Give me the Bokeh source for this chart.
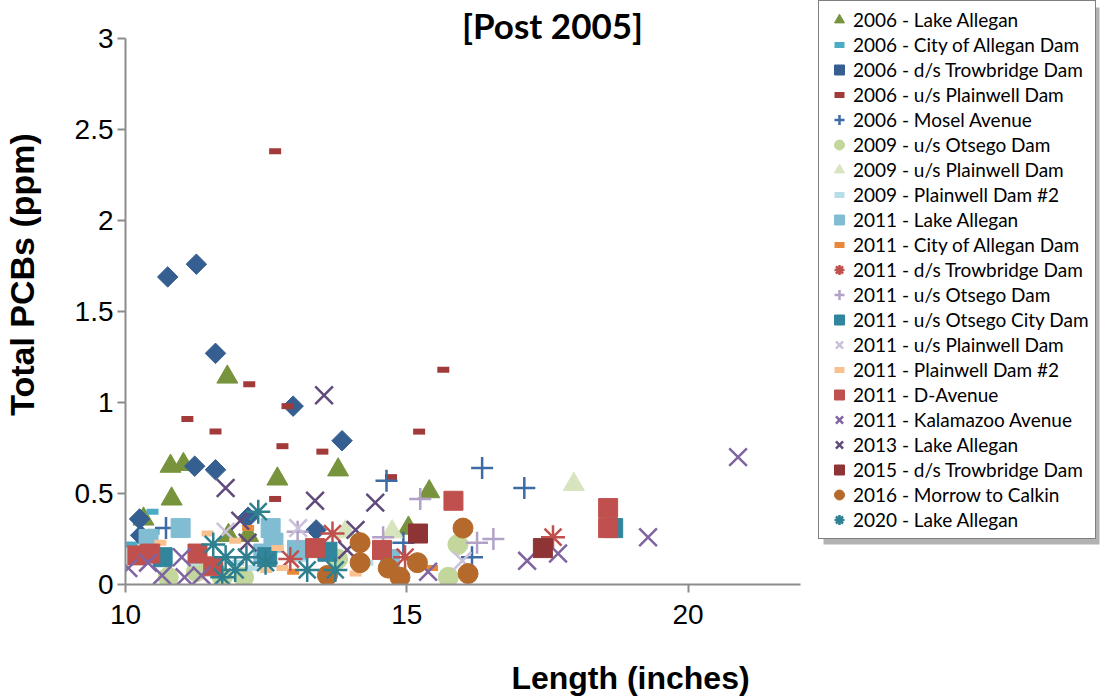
import math
from bokeh.plotting import figure
from bokeh.models import (Label, FixedTicker, NumeralTickFormatter, Range1d, Legend,
                          LegendItem, BoxAnnotation)
from bokeh.embed import file_html
from bokeh.resources import INLINE

# ---------------- data (Length in inches, Total PCBs in ppm) ----------------
s06_lake_x = [10.32, 10.80, 10.82, 11.03, 11.81, 11.83, 12.18, 12.70, 13.78, 15.03, 15.40]
s06_lake_y = [0.36, 0.65, 0.47, 0.66, 1.14, 0.27, 0.27, 0.58, 0.63, 0.31, 0.51]

s06_city_x = [10.11, 10.48, 10.50]
s06_city_y = [0.22, 0.40, 0.29]

s06_dstrow_x = [10.75, 11.26, 11.60, 12.98, 13.85, 11.23, 11.60, 10.25, 10.27, 12.18, 13.39]
s06_dstrow_y = [1.69, 1.76, 1.27, 0.98, 0.79, 0.65, 0.63, 0.36, 0.27, 0.37, 0.30]

s06_usplain_x = [12.66, 12.20, 11.10, 11.60, 12.88, 12.79, 13.50, 15.65, 15.22, 12.66, 14.72]
s06_usplain_y = [2.38, 1.10, 0.91, 0.84, 0.98, 0.76, 0.73, 1.18, 0.84, 0.47, 0.59]

s06_mosel_x = [16.34, 17.09, 14.64, 10.72, 14.94, 16.16]
s06_mosel_y = [0.64, 0.53, 0.57, 0.31, 0.23, 0.15]

s09_usots_x = [15.91, 15.74, 12.10, 11.72, 11.26, 13.77, 10.76]
s09_usots_y = [0.22, 0.04, 0.04, 0.04, 0.07, 0.14, 0.04]

s09_usplain_x = [17.97, 13.91, 14.74]
s09_usplain_y = [0.55, 0.29, 0.29]

s09_plain2_x = [11.20, 12.00, 12.25, 13.10, 14.30]
s09_plain2_y = [0.12, 0.12, 0.09, 0.14, 0.12]

s11_lake_x = [10.98, 10.41, 12.58, 12.63, 12.45, 13.05, 14.70]
s11_lake_y = [0.31, 0.25, 0.31, 0.23, 0.17, 0.19, 0.14]

s11_city_x = [12.18, 15.45, 12.98]
s11_city_y = [0.31, 0.09, 0.07]

s11_dstrow_x = [17.60, 13.68, 14.97, 12.93]
s11_dstrow_y = [0.26, 0.28, 0.15, 0.14]

s11_usots_x = [13.06, 14.58, 15.24, 16.25, 16.54]
s11_usots_y = [0.29, 0.26, 0.47, 0.23, 0.25]

s11_otscity_x = [18.67, 10.66, 13.59, 12.52]
s11_otscity_y = [0.31, 0.15, 0.18, 0.15]

s11_usplain_x = [11.78, 13.07, 15.99]
s11_usplain_y = [0.29, 0.31, 0.13]

s11_plain2_x = [11.46, 10.62, 11.95, 12.70, 12.79, 14.09, 12.50]
s11_plain2_y = [0.28, 0.23, 0.24, 0.20, 0.09, 0.06, 0.08]

s11_dave_x = [10.21, 10.44, 11.28, 11.56, 13.37, 14.56, 15.83, 18.58, 18.58]
s11_dave_y = [0.16, 0.17, 0.17, 0.10, 0.20, 0.19, 0.46, 0.42, 0.31]

s11_kal_x = [10.05, 10.40, 10.65, 11.00, 11.05, 11.35, 15.38, 17.14, 17.69, 19.29, 20.89]
s11_kal_y = [0.09, 0.12, 0.05, 0.15, 0.04, 0.05, 0.07, 0.13, 0.17, 0.26, 0.70]

s13_lake_x = [13.53, 11.78, 14.44, 13.37, 12.04, 12.17, 14.09, 13.94]
s13_lake_y = [1.04, 0.53, 0.45, 0.46, 0.35, 0.23, 0.30, 0.19]

s15_dstrow_x = [15.20, 17.42]
s15_dstrow_y = [0.28, 0.20]

s16_morrow_x = [16.00, 16.09, 15.19, 14.88, 14.67, 14.17, 14.17, 13.59]
s16_morrow_y = [0.31, 0.06, 0.12, 0.04, 0.09, 0.23, 0.12, 0.05]

s20_lake_x = [12.36, 11.56, 12.49, 11.95, 11.78, 11.72, 13.23, 13.73, 12.15]
s20_lake_y = [0.40, 0.22, 0.12, 0.08, 0.15, 0.04, 0.08, 0.08, 0.15]

x_ticks = [10, 15, 20]
y_ticks = [0, 0.5, 1, 1.5, 2, 2.5, 3]
x_axis_span = (10, 22)
y_axis_span = (0, 3)

# ---------------- figure ----------------
# The frame extends to the top/right edges so the legend and title (drawn inside
# the frame) are not clipped; the axis lines are bounded to the chart's ranges.
W, H = 1103, 700
L, B = 125, 116
FW, FH = W - L, H - B            # frame 978 x 584
PX_X = 675 / 12.0                # pixels per inch  (10..22 spans 675 px)
PX_Y = 546 / 3.0                 # pixels per ppm   (0..3 spans 546 px)
p = figure(width=W, height=H,
           x_range=Range1d(10, 10 + FW / PX_X), y_range=Range1d(0, FH / PX_Y),
           output_backend="svg", toolbar_location=None,
           min_border_left=L, min_border_right=0, min_border_top=0, min_border_bottom=B)
p.outline_line_color = None
p.xgrid.visible = False
p.ygrid.visible = False
p.background_fill_color = "white"
p.border_fill_color = "white"

for ax in (p.xaxis[0], p.yaxis[0]):
    ax.axis_line_color = "#8c8c8c"
    ax.axis_line_width = 2
    ax.major_tick_line_color = "#8c8c8c"
    ax.major_tick_line_width = 2
    ax.major_tick_in = 0
    ax.major_tick_out = 8
    ax.minor_tick_line_color = None
    ax.major_label_text_font = "Liberation Sans"
    ax.major_label_text_font_size = "28px"
    ax.major_label_text_color = "black"
p.xaxis.major_label_standoff = 12
p.yaxis.major_label_standoff = 4
p.xaxis.bounds = x_axis_span
p.yaxis.bounds = y_axis_span

p.xaxis.ticker = FixedTicker(ticks=x_ticks)
p.yaxis.ticker = FixedTicker(ticks=y_ticks)
p.yaxis.formatter = NumeralTickFormatter(format="0.[0]")
p.xaxis.formatter = NumeralTickFormatter(format="0")

items = []
def sc(xs, ys, label, marker, color, size, lw=1.0, angle=0.0, fill=True):
    r = p.scatter(xs, ys, marker=marker, size=size, line_color=color, line_width=lw,
                  angle=angle, fill_color=(color if fill else None))
    items.append(LegendItem(label=label, renderers=[r]))

sc(s06_lake_x, s06_lake_y, "2006 - Lake Allegan", "triangle", "#77933C", 21)
sc(s06_city_x, s06_city_y, "2006 - City of Allegan Dam", "dash", "#4BACC6", 12, lw=6)
sc(s06_dstrow_x, s06_dstrow_y, "2006 - d/s Trowbridge Dam", "square", "#365F91", 14.5,
   angle=math.pi / 4)
sc(s06_usplain_x, s06_usplain_y, "2006 - u/s Plainwell Dam", "dash", "#A33A3A", 12, lw=6)
sc(s06_mosel_x, s06_mosel_y, "2006 - Mosel Avenue", "cross", "#3C6BA5", 22, lw=2.5, fill=False)
sc(s09_usots_x, s09_usots_y, "2009 - u/s Otsego Dam", "circle", "#C3D69B", 20)
sc(s09_usplain_x, s09_usplain_y, "2009 - u/s Plainwell Dam", "triangle", "#D7E4BD", 21)
sc(s09_plain2_x, s09_plain2_y, "2009 - Plainwell Dam #2", "dash", "#B7DEE8", 12, lw=6)
sc(s11_lake_x, s11_lake_y, "2011 - Lake Allegan", "square", "#80BDD3", 19)
sc(s11_city_x, s11_city_y, "2011 - City of Allegan Dam", "dash", "#E8883A", 12, lw=6)
sc(s11_dstrow_x, s11_dstrow_y, "2011 - d/s Trowbridge Dam", "asterisk", "#C0504D", 24, lw=2.5, fill=False)
sc(s11_usots_x, s11_usots_y, "2011 - u/s Otsego Dam", "cross", "#B3A2C7", 22, lw=2.5, fill=False)
sc(s11_otscity_x, s11_otscity_y, "2011 - u/s Otsego City Dam", "square", "#31859C", 19)
sc(s11_usplain_x, s11_usplain_y, "2011 - u/s Plainwell Dam", "x", "#CCC1DA", 25, lw=2.5, fill=False)
sc(s11_plain2_x, s11_plain2_y, "2011 - Plainwell Dam #2", "dash", "#FAC090", 12, lw=6)
sc(s11_dave_x, s11_dave_y, "2011 - D-Avenue", "square", "#C0504D", 19)
sc(s11_kal_x, s11_kal_y, "2011 - Kalamazoo Avenue", "x", "#8064A2", 25, lw=2.5, fill=False)
sc(s13_lake_x, s13_lake_y, "2013 - Lake Allegan", "x", "#604A7B", 25, lw=2.5, fill=False)
sc(s15_dstrow_x, s15_dstrow_y, "2015 - d/s Trowbridge Dam", "square", "#8E3434", 19)
sc(s16_morrow_x, s16_morrow_y, "2016 - Morrow to Calkin", "circle", "#B5692A", 20)
sc(s20_lake_x, s20_lake_y, "2020 - Lake Allegan", "asterisk", "#2E7F8F", 24, lw=2.5, fill=False)

# legend box geometry (screen px, relative to the frame's bottom-left)
LEG_X, LEG_Y, LEG_W, LEG_H = 693, 45, 276, 537
p.add_layout(BoxAnnotation(left=LEG_X + 5, right=LEG_X + LEG_W + 5,
                           bottom=LEG_Y - 5, top=LEG_Y + LEG_H - 5,
                           left_units="screen", right_units="screen",
                           bottom_units="screen", top_units="screen",
                           fill_color="#7f7f7f", fill_alpha=0.6, line_color=None,
                           level="annotation"))
lg = Legend(items=items, location=(LEG_X, LEG_Y), padding=6, margin=0,
            glyph_width=28, glyph_height=25, label_height=25, spacing=0, label_standoff=0,
            label_text_font="Lato", label_text_font_size="19px", label_text_color="black",
            label_text_baseline="middle",
            border_line_color="black", border_line_width=1.5,
            background_fill_color="white", background_fill_alpha=1.0)
p.add_layout(lg)

p.add_layout(Label(x=427, y=FH - 24, x_units="screen", y_units="screen", text="[Post 2005]",
                   text_font="Lato", text_font_style="bold", text_font_size="35px",
                   text_align="center", text_baseline="middle", text_color="black"))
p.add_layout(Label(x=-12, y=310, x_units="screen", y_units="screen", text="Total PCBs (ppm)",
                   angle=math.pi / 2, text_font="Liberation Sans", text_font_style="bold",
                   text_font_size="34px", text_align="center", text_baseline="middle",
                   text_color="black"), "left")
p.add_layout(Label(x=505, y=-15, x_units="screen", y_units="screen", text="Length (inches)",
                   text_font="Liberation Sans", text_font_style="bold",
                   text_font_size="32px", text_align="center", text_baseline="middle",
                   text_color="black"), "below")

open("out.html", "w").write(file_html(p, INLINE))
